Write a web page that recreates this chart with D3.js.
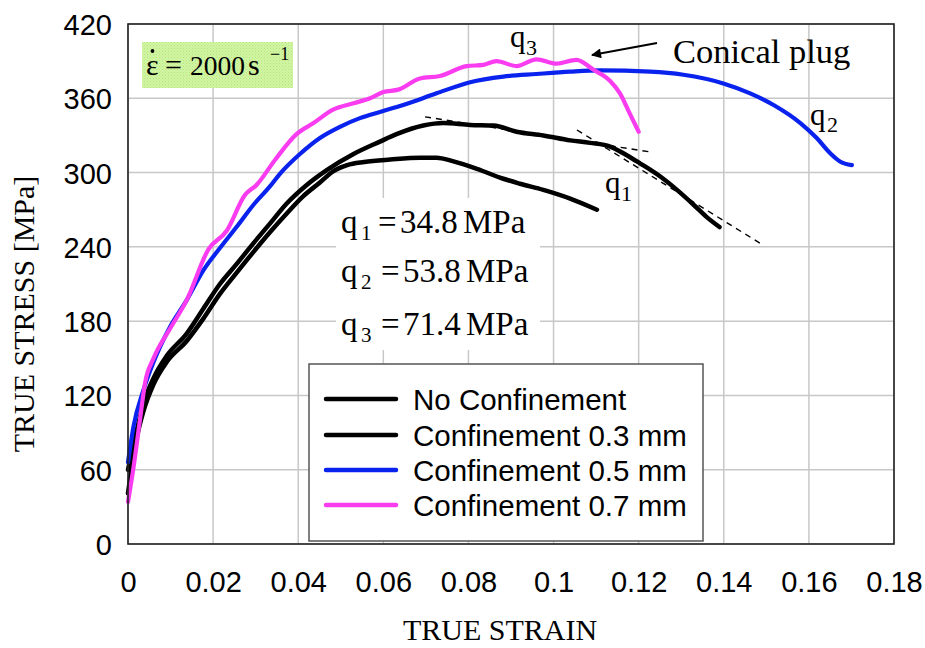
<!DOCTYPE html>
<html><head><meta charset="utf-8">
<script src="https://cdn.jsdelivr.net/npm/d3@7"></script>
<style>
html,body{margin:0;padding:0;background:#fff;}
svg{display:block;}
</style></head>
<body>
<svg id="chart" width="925" height="648"></svg>
<script>
// ---------- data ----------
const seriesNames = ["No Confinement", "Confinement 0.3 mm", "Confinement 0.5 mm", "Confinement 0.7 mm"];
const seriesColors = ["#000000", "#000000", "#0a22ee", "#fa3cf0"];

const noConfinement = [[0,41],[0.002,85],[0.0036,107],[0.006,129],[0.0091,147],[0.0138,164],[0.0177,182],[0.0216,202],[0.0255,219],[0.0295,236],[0.0334,252],[0.0373,267],[0.0412,281],[0.0451,292],[0.0482,301],[0.0515,306],[0.0555,308.5],[0.0616,310.5],[0.0686,312],[0.0725,312],[0.0765,309],[0.082,303],[0.0882,295],[0.0921,291],[0.0976,286],[0.1039,279],[0.1102,270]];
const conf03 = [[0,60],[0.002,91],[0.0036,113],[0.006,134],[0.0091,152],[0.0138,170],[0.0177,190],[0.0216,210],[0.0255,226],[0.0295,243],[0.0334,259],[0.0373,275],[0.042,290],[0.0467,302],[0.053,315],[0.0592,325],[0.0631,331],[0.0694,338],[0.0741,340],[0.0804,338.5],[0.0859,338],[0.0913,333],[0.0976,330],[0.1039,326],[0.1086,324],[0.1133,321],[0.1172,314],[0.1203,307.5],[0.125,297],[0.129,286],[0.1329,274],[0.136,264],[0.139,256]];
const conf05 = [[0,66],[0.0013,95],[0.0036,124],[0.006,147],[0.0099,175.5],[0.0138,197],[0.0177,221],[0.0216,239],[0.0255,256],[0.0295,274],[0.0334,289],[0.0357,299],[0.0404,315],[0.0451,328],[0.0498,337],[0.0545,344],[0.0592,349],[0.0647,354.6],[0.0725,364],[0.0804,373],[0.0882,377.5],[0.096,379.6],[0.1039,381.5],[0.111,382.5],[0.1227,381.5],[0.1305,379],[0.1399,372],[0.1462,364],[0.1517,354.6],[0.158,340],[0.1619,327.7],[0.165,315.6],[0.1673,309],[0.1701,306]];
const conf07 = [[0,34],[0.0013,62],[0.0028,100],[0.004,130],[0.006,150],[0.0099,174],[0.0138,197],[0.0189,238],[0.0232,253],[0.0275,282],[0.0302,290],[0.0345,310],[0.0396,331],[0.0436,340],[0.0483,351],[0.053,356],[0.0569,360],[0.06,365],[0.0635,367],[0.0686,376],[0.0733,378],[0.0796,386],[0.0835,387],[0.0866,390],[0.0913,386],[0.096,391.5],[0.1007,388],[0.1054,391],[0.1094,383],[0.1133,374],[0.1156,364],[0.118,347],[0.12,333]];
const seriesData = [noConfinement, conf03, conf05, conf07];

const tangentPlateau = [[0.0698,345],[0.1232,316.4]];
const tangentDrop = [[0.1055,334.4],[0.1485,243]];

const xTicks = [0,0.02,0.04,0.06,0.08,0.1,0.12,0.14,0.16,0.18];
const xTickLabels = ["0","0.02","0.04","0.06","0.08","0.1","0.12","0.14","0.16","0.18"];
const yTicks = [0,60,120,180,240,300,360,420];

const qLabels = [["1","34.8"],["2","53.8"],["3","71.4"]];

// ---------- layout ----------
const svg = d3.select("#chart");
const L = 128, R = 894, T = 24, B = 544;
const x = d3.scaleLinear().domain([0,0.18]).range([L,R]);
const y = d3.scaleLinear().domain([0,420]).range([B,T]);
const SANS = "'Liberation Sans', Arial, sans-serif";
const SERIF = "'Liberation Serif', 'Times New Roman', serif";

// grid
const g = svg.append("g");
g.selectAll("line.vg").data(xTicks).join("line")
  .attr("x1", d=>x(d)).attr("x2", d=>x(d)).attr("y1", T).attr("y2", B)
  .attr("stroke", "#c8c8c8").attr("stroke-width", 1.5);
g.selectAll("line.hg").data(yTicks).join("line")
  .attr("x1", L).attr("x2", R).attr("y1", d=>y(d)).attr("y2", d=>y(d))
  .attr("stroke", "#c8c8c8").attr("stroke-width", 1.5);

// white box behind q equations
svg.append("rect").attr("x", 336).attr("y", 198).attr("width", 204).attr("height", 152).attr("fill", "#fff");

// axes (labels only)
const xAxis = d3.axisBottom(x).tickValues(xTicks).tickFormat((d,i)=>xTickLabels[i]).tickSize(0).tickPadding(0);
const gx = svg.append("g").attr("transform", `translate(0,${B})`).call(xAxis);
gx.select(".domain").remove();
gx.selectAll("text").attr("font-family", SANS).attr("font-size", 29).attr("fill", "#000")
  .attr("dy", null).attr("y", 48);

const yAxis = d3.axisLeft(y).tickValues(yTicks).tickSize(0).tickPadding(0);
const gy = svg.append("g").attr("transform", `translate(${L},0)`).call(yAxis);
gy.select(".domain").remove();
gy.selectAll("text").attr("font-family", SANS).attr("font-size", 29).attr("fill", "#000")
  .attr("x", -16).attr("dy", "0.36em");

// strain-rate box
const defs = svg.append("defs");
const pat = defs.append("pattern").attr("id","gp").attr("width",3).attr("height",3).attr("patternUnits","userSpaceOnUse");
pat.append("rect").attr("width",3).attr("height",3).attr("fill","#d2f5a4");
pat.append("rect").attr("width",1).attr("height",1).attr("fill","#b4e67a");
pat.append("rect").attr("x",1.5).attr("y",1.5).attr("width",1).attr("height",1).attr("fill","#bdea88");
svg.append("rect").attr("x", 142).attr("y", 42).attr("width", 151).attr("height", 46).attr("fill", "url(#gp)");
const ser = (t, xx, yy, fs) => svg.append("text").attr("x", xx).attr("y", yy)
  .attr("font-family", SERIF).attr("font-size", fs).attr("fill", "#000").text(t);
ser("\u03B5", 146, 75, 30);
svg.append("circle").attr("cx", 152.5).attr("cy", 51).attr("r", 1.9).attr("fill", "#000");
ser("=", 165, 75, 30);
ser("2000", 190, 75, 27.5);
ser("s", 248, 75, 30);
ser("\u22121", 270, 60, 18);

// dashed tangents
const line = d3.line().x(d=>x(d[0])).y(d=>y(d[1]));
[tangentPlateau, tangentDrop].forEach(t => {
  svg.append("path").attr("d", line(t)).attr("fill","none").attr("stroke","#000")
    .attr("stroke-width",1.4).attr("stroke-dasharray","6,5");
});

// curves
const curve = d3.line().x(d=>x(d[0])).y(d=>y(d[1])).curve(d3.curveMonotoneX);
const widths = [4.5, 4.5, 4.2, 4.2];
seriesData.forEach((s,i) => {
  svg.append("path").attr("d", curve(s)).attr("fill","none").attr("stroke", seriesColors[i])
    .attr("stroke-width", widths[i]).attr("stroke-linejoin","round").attr("stroke-linecap","round");
});

// plot frame
svg.append("rect").attr("x", L).attr("y", T).attr("width", R-L).attr("height", B-T)
  .attr("fill","none").attr("stroke","#222").attr("stroke-width",1.6);

// q labels on curves
const qlab = (sub, xx, yy, subx, suby) => { ser("q", xx, yy, 31); ser(sub, subx, suby, 22); };
qlab("3", 510, 47, 526, 55);
qlab("1", 605, 193, 621, 201);
qlab("2", 810, 125, 827, 132);

// Conical plug + arrow
ser("Conical plug", 673, 63, 34.5);
defs.append("marker").attr("id","ah").attr("viewBox","0 0 10 10").attr("refX",9).attr("refY",5)
  .attr("markerWidth",7).attr("markerHeight",5).attr("orient","auto-start-reverse")
  .append("path").attr("d","M0,0L10,5L0,10z").attr("fill","#000");
svg.append("line").attr("x1",657).attr("y1",43).attr("x2",592).attr("y2",55)
  .attr("stroke","#000").attr("stroke-width",2).attr("marker-end","url(#ah)");

// q equations
const baselines = [233, 282, 335];
qLabels.forEach((q,i) => {
  const yy = baselines[i];
  ser("q", 341, yy, 33);
  ser(q[0], 361, yy+7, 21);
  ser("=", i===0?378:381, yy, 33);
  ser(q[1], i===0?400:403, yy, 33);
  ser("MPa", i===0?463:466, yy, 33);
});

// legend
const lg = svg.append("g");
lg.append("rect").attr("x", 309).attr("y", 364).attr("width", 394).attr("height", 177)
  .attr("fill","#fff").attr("stroke","#555").attr("stroke-width",1.5);
const legY = [399, 435, 470, 505];
seriesNames.forEach((n,i) => {
  lg.append("line").attr("x1",326).attr("x2",396).attr("y1",legY[i]).attr("y2",legY[i])
    .attr("stroke", seriesColors[i]).attr("stroke-width",4.5).attr("stroke-linecap","round");
  lg.append("text").attr("x",413).attr("y",legY[i]+11).attr("font-family",SANS).attr("font-size",29.5)
    .attr("fill","#000").text(n);
});

// axis titles
svg.append("text").attr("x", 500).attr("y", 640).attr("text-anchor","middle")
  .attr("font-family", SERIF).attr("font-size", 30).attr("fill","#000").text("TRUE STRAIN");
svg.append("text").attr("transform","translate(34,314) rotate(-90)").attr("text-anchor","middle")
  .attr("font-family", SERIF).attr("font-size", 30).attr("fill","#000").text("TRUE STRESS [MPa]");
</script>
</body></html>
